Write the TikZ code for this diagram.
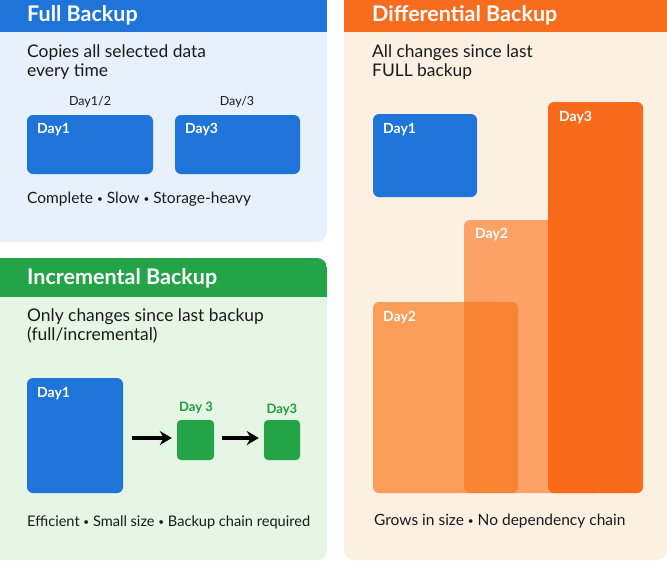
\documentclass[tikz,border=0pt]{standalone}
\usepackage{fontspec}
\setmainfont{Lato}
\usetikzlibrary{arrows.meta}
\definecolor{fullbg}{HTML}{E8F1FB}
\definecolor{fullhd}{HTML}{1E74D8}
\definecolor{incbg}{HTML}{E6F6E4}
\definecolor{inchd}{HTML}{22A447}
\definecolor{difbg}{HTML}{FCF0E2}
\definecolor{difhd}{HTML}{F76D1D}
\definecolor{boxblue}{HTML}{1F74D9}
\definecolor{boxgreen}{HTML}{22A447}
\definecolor{labgreen}{HTML}{1E9A3F}
\definecolor{orgdark}{HTML}{F96A1B}
\definecolor{orgmid}{HTML}{FCA264}
\definecolor{orglow}{HTML}{F97A20}
\definecolor{txt}{HTML}{1A1A1A}
\newcommand{\sbul}{\raisebox{0.1ex}{\fontsize{10}{10}\selectfont •}}
\begin{document}
\begin{tikzpicture}[x=1pt,y=-1pt,
  title/.style={anchor=west,text=white,font=\fontsize{21.5}{24}\selectfont\bfseries,inner sep=0pt},
  body/.style={anchor=north west,text=txt,font=\fontsize{17.4}{19.5}\selectfont,align=left,inner sep=0pt},
  foot/.style={anchor=west,text=txt,font=\fontsize{15.5}{17}\selectfont,inner sep=0pt},
  inlab/.style={anchor=west,text=white,font=\fontsize{14}{16}\selectfont\bfseries,inner sep=0pt},
  toplab/.style={text=txt,font=\fontsize{12.5}{14}\selectfont,inner sep=0pt},
  greenlab/.style={text=labgreen,font=\fontsize{13}{14}\selectfont\bfseries,inner sep=0pt},
  bluebox/.style={fill=boxblue,rounded corners=6pt},
  greenbox/.style={fill=boxgreen,rounded corners=4pt},
  arr/.style={-{Stealth[length=12pt,width=14pt]},line width=3.2pt,black}
]
\useasboundingbox (0,0) rectangle (667,563);
\clip (0,0) rectangle (667,563);
\fill[white] (0,0) rectangle (667,563);

% ---------- Full Backup panel ----------
\fill[fullbg,rounded corners=10pt] (-10,-10) rectangle (327,242);
\begin{scope}
  \clip[rounded corners=10pt] (-10,-10) rectangle (327,242);
  \fill[fullhd] (-10,-10) rectangle (327,32);
\end{scope}
\node[title] (t1) at (27,15) {Full Backup};
\node[body] (b1) at (27,44) {Copies all selected data\\every time};
\node[toplab] (l12) at (90,102) {Day1/2};
\node[toplab] (l3) at (237,102) {Day/3};
\path[bluebox] (27,115) rectangle (153,174);
\path[bluebox] (175,115) rectangle (300,174);
\node[inlab] (fd1) at (37,130) {Day1};
\node[inlab] (fd3) at (185,130) {Day3};
\node[foot] (f1) at (27,199) {Complete \sbul\ Slow \sbul\ Storage-heavy};

% ---------- Incremental Backup panel ----------
\fill[incbg,rounded corners=10pt] (-10,258) rectangle (327,560);
\begin{scope}
  \clip[rounded corners=10pt] (-10,258) rectangle (327,560);
  \fill[inchd] (-10,258) rectangle (327,297);
\end{scope}
\node[title] (t2) at (27,278) {Incremental Backup};
\node[body] (b2) at (27,308) {Only changes since last backup\\(full/incremental)};
\path[bluebox] (27,378) rectangle (123,493);
\node[inlab] (id1) at (37,394) {Day1};
\node[greenbox,minimum width=37pt,minimum height=40pt,inner sep=0pt] (g1) at (195.5,440) {};
\node[greenbox,minimum width=36pt,minimum height=40pt,inner sep=0pt] (g2) at (282,440) {};
\node[greenlab] (gl1) at (196,408) {Day 3};
\node[greenlab] (gl2) at (282,410) {Day3};
\coordinate (a1s) at (132,438);
\coordinate (a2s) at (222,438);
\draw[arr] (a1s) -- ([xshift=-5pt]g1.west |- a1s);
\draw[arr] (a2s) -- ([xshift=-5pt]g2.west |- a2s);
\node[foot,font=\fontsize{14.6}{17}\selectfont] (f2) at (27,522) {Efficient \sbul\ Small size \sbul\ Backup chain required};

% ---------- Differential Backup panel ----------
\fill[difbg,rounded corners=10pt] (344,-10) rectangle (667,560);
\begin{scope}
  \clip[rounded corners=10pt] (344,-10) rectangle (667,560);
  \fill[difhd] (344,-10) rectangle (667,32);
\end{scope}
\node[title] (t3) at (372,15) {Differential Backup};
\node[body] (b3) at (372,44) {All changes since last\\FULL backup};
\path[bluebox] (373,114) rectangle (477,197);
\node[inlab] (dd1) at (383,130) {Day1};
\path[fill=orgmid,rounded corners=6pt] (464,220) rectangle (600,493);
\path[fill=orglow,fill opacity=0.7,rounded corners=6pt] (373,302) rectangle (518,493);
\path[fill=orgdark,rounded corners=6pt] (548,102) rectangle (643,493);
\node[inlab] (dd2a) at (475,235) {Day2};
\node[inlab] (dd2b) at (383,318) {Day2};
\node[inlab] (dd3) at (559,118) {Day3};
\node[foot] (f3) at (374,521) {Grows in size \sbul\ No dependency chain};
\end{tikzpicture}
\end{document}
